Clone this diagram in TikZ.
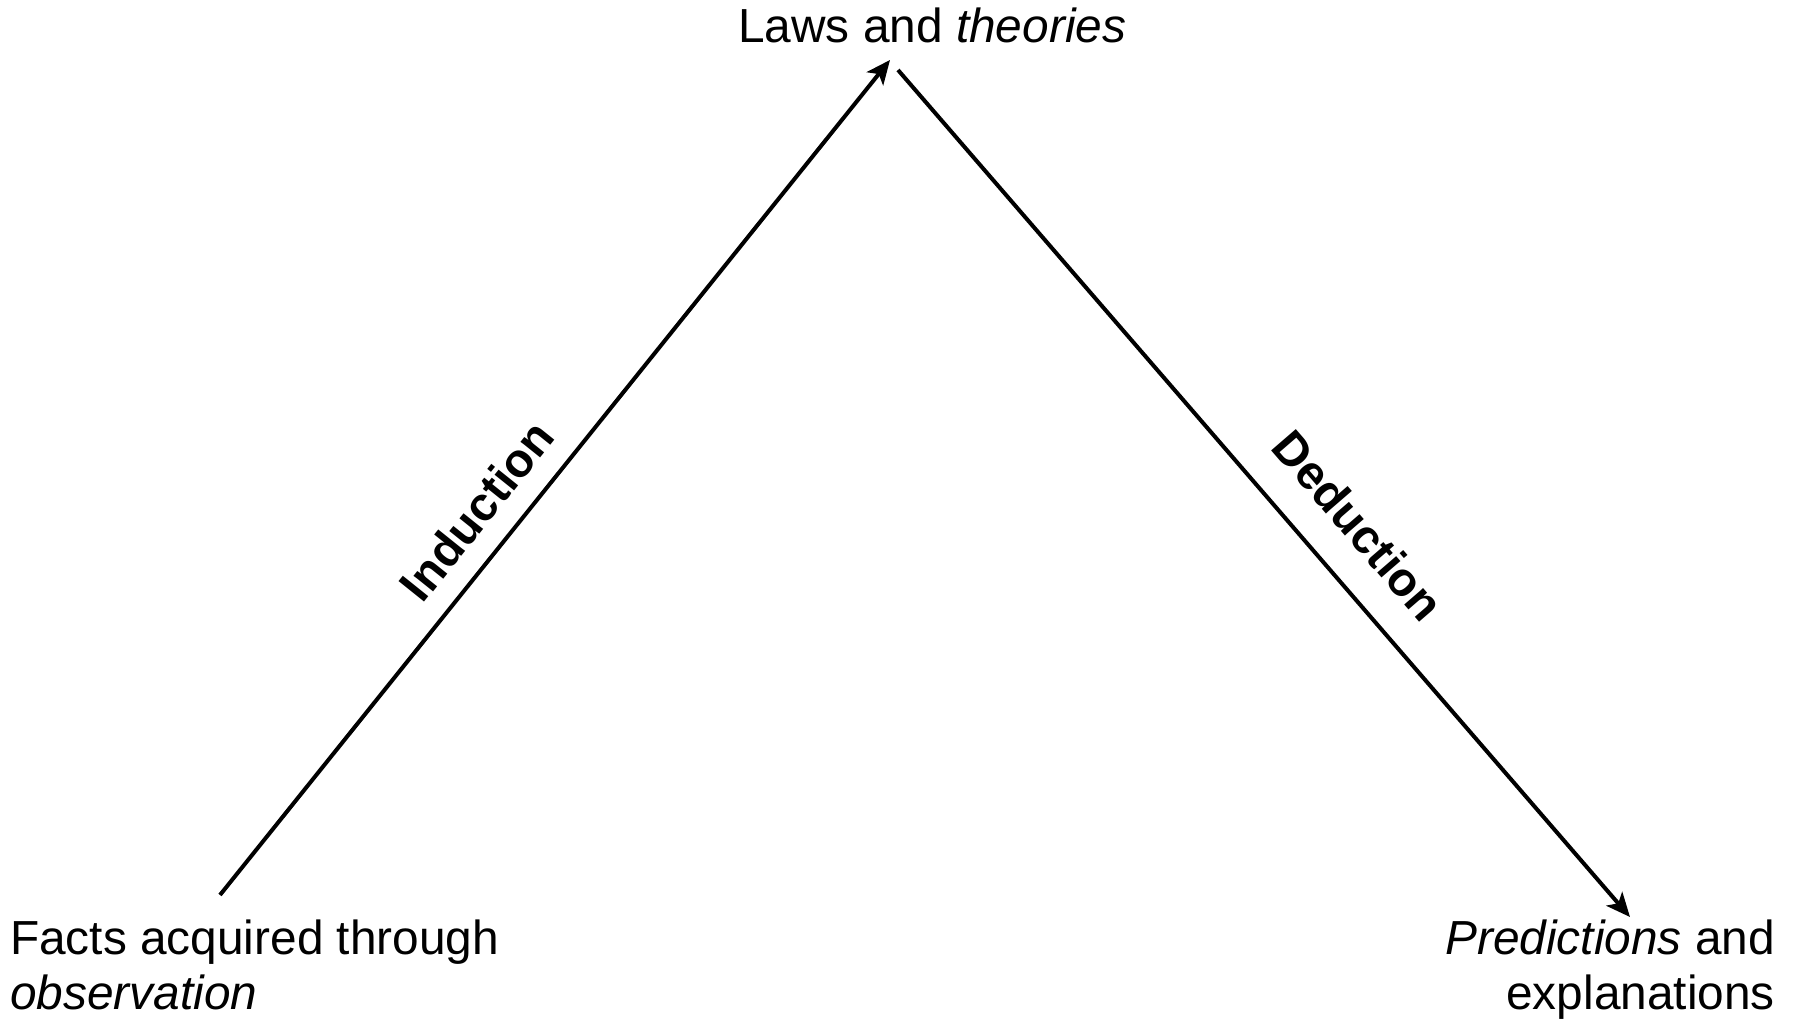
\documentclass[tikz,border=0pt]{standalone}
\usepackage{fontspec}
\setmainfont{Liberation Sans}
\usetikzlibrary{arrows.meta}
\begin{document}
\begin{tikzpicture}[x=1pt,y=1pt,
  lbl/.style={inner sep=0pt, font=\fontsize{47.8}{55}\selectfont},
  side/.style={inner sep=0pt, font=\fontsize{47.5}{55}\selectfont\bfseries},
  conn/.style={line width=4pt, -{Stealth[length=24pt,width=21pt,inset=6pt]}}]
\useasboundingbox (0,0) rectangle (1797,1020);
\node[lbl, anchor=base west] (laws) at (738,977) {Laws and \textit{theories}};
\node[lbl, anchor=north west, align=left] (facts) at (10,100) {Facts acquired through\\\textit{observation}};
\node[lbl, anchor=north east, align=right] (pred) at (1775,100) {\textit{Predictions} and\\explanations};
\coordinate (a1) at (220,125);
\coordinate (a2) at (890,960);
\coordinate (b1) at (898,950);
\coordinate (b2) at (1630,103);
\draw[conn] (a1) -- node[side, pos=0.43, sloped, anchor=south, above=21pt] (ind) {Induction} (a2);
\draw[conn] (b1) -- node[side, pos=0.577, sloped, anchor=south, above=31pt] (ded) {Deduction} (b2);
\end{tikzpicture}
\end{document}
